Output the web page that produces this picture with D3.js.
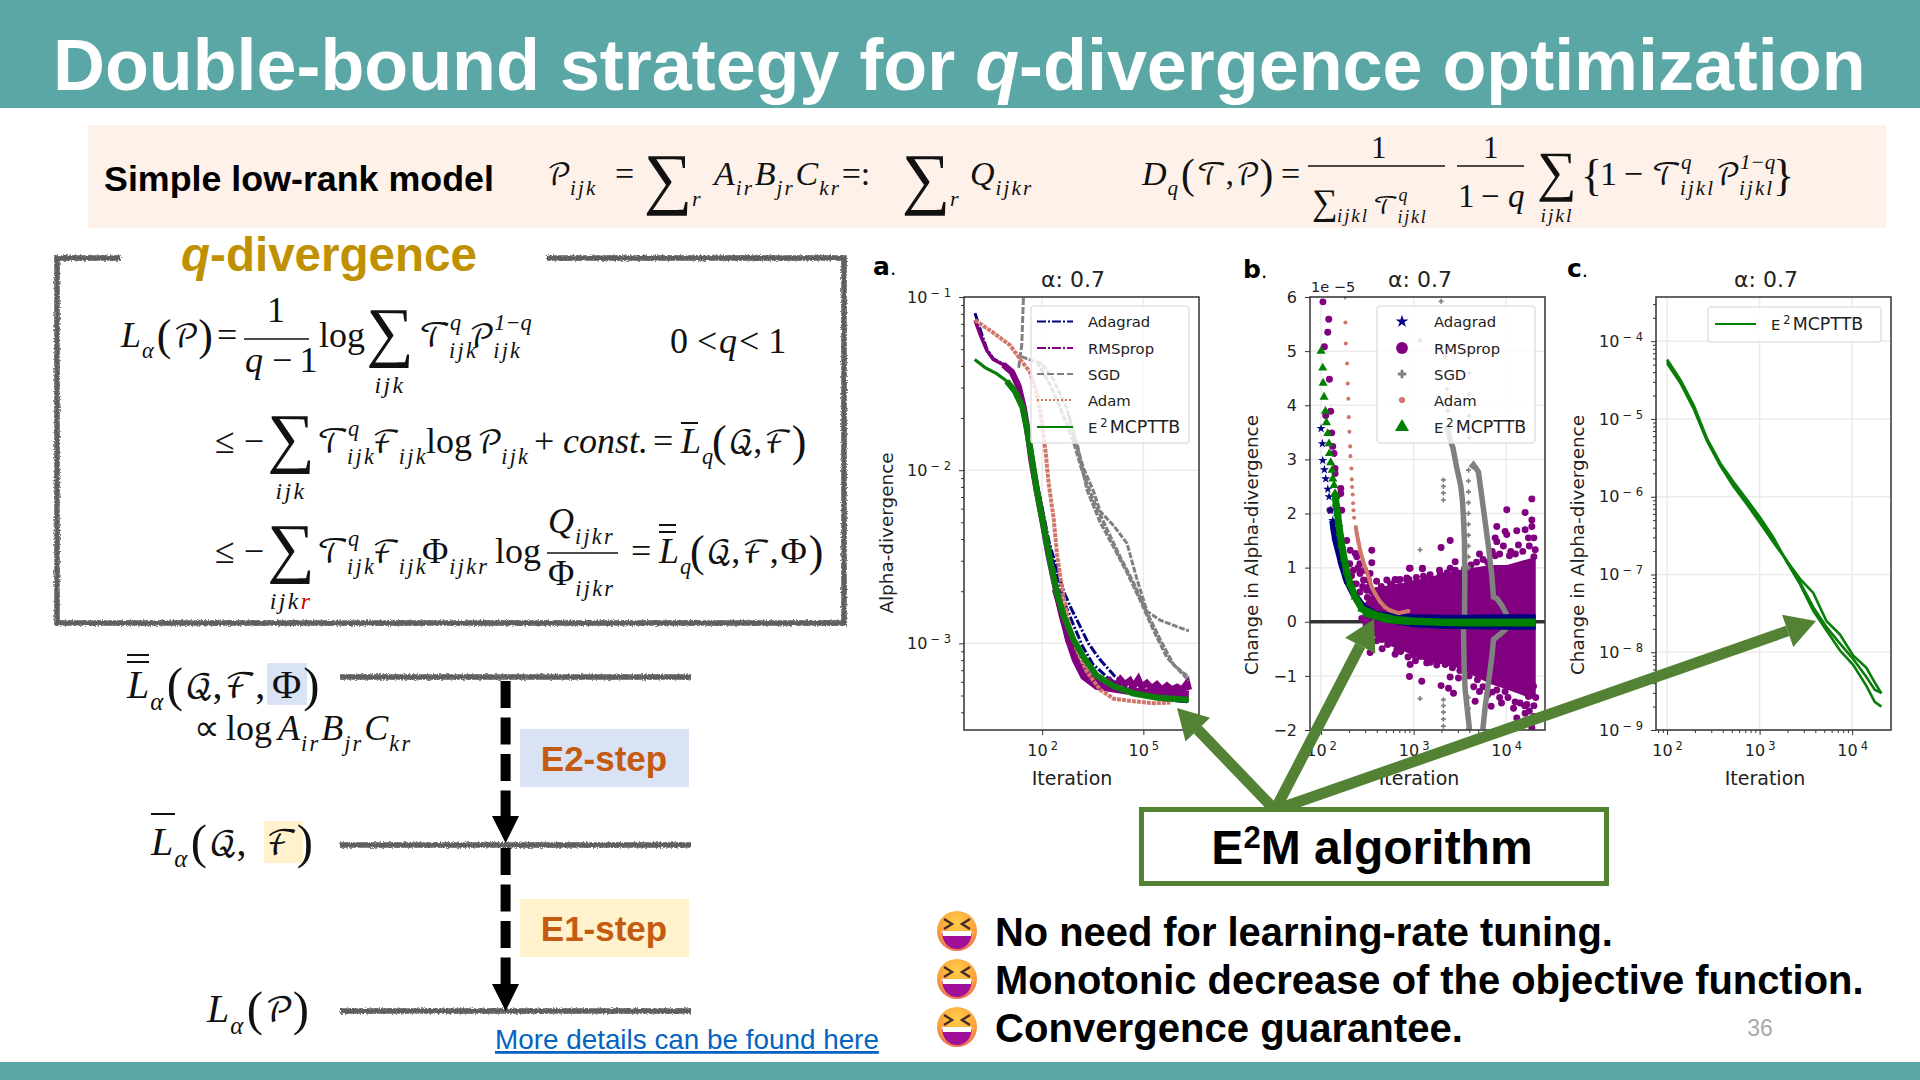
<!DOCTYPE html>
<html>
<head>
<meta charset="utf-8">
<title>Double-bound strategy</title>
<script src="https://cdn.jsdelivr.net/npm/d3@7/dist/d3.min.js"></script>
<style>
body { margin: 0; background: #fff; }
svg { display: block; }
.tick text, .plotText { font-family: "DejaVu Sans", sans-serif; fill: #222; }
.sans { font-family: "Liberation Sans", Arial, sans-serif; }
</style>
</head>
<body>
<svg id="slide" width="1920" height="1080"></svg>
<script>
// ---- panel a: alpha-divergence per iteration, x kept as log10(iteration)
var aE2mExp = [0, .31, .65, .95, 1.2, 1.42, 1.55, 1.69, 1.84, 2.04, 2.24, 2.44, 2.63, 2.93, 3.23, 3.62, 4.12, 4.71, 5.41, 6.35];
var aE2mVal = [.0436, .0391, .0361, .0327, .0284, .023, .0173, .0118, .0077, .00479, .00298, .00195, .00146, .00105, .00083, .00065, .000566, .000514, .000486, .000472];

var aRmsExp = [.01, .16, .36, .55, .85, 1.1, 1.3, 1.45, 1.59, 1.69, 1.84, 2.02, 2.19, 2.39, 2.58, 2.78, 3.03, 3.43, 3.7, 3.85, 4, 4.15, 4.32, 4.45, 4.6, 4.7, 4.85, 4.95, 5.1, 5.25, 5.4, 5.55, 5.7, 5.85, 6, 6.15, 6.3, 6.35];
var aRmsVal = [.0735, .0608, .0491, .0436, .0406, .0369, .0305, .023, .0157, .0113, .0077, .00502, .00327, .00214, .00146, .00105, .00079, .000637, .00059, .00058, .00061, .00056, .00062, .00058, .00061, .00056, .00062, .00056, .00059, .00055, .00058, .00054, .00057, .00054, .00056, .00054, .00059, .00054];
var aRms2Exp = [2.39, 2.63, 2.78, 2.98, 3.23, 3.62, 4.5, 5.4, 6.35];
var aRms2Val = [.00205, .00143, .00105, .000804, .000644, .000564, .00053, .00052, .00051];

var aAdagradExp = [.01, .16, .36, .55, .85, 1.1, 1.3, 1.45, 1.59, 1.69, 1.84, 2.02, 2.2, 2.45, 2.66, 2.88, 3.13, 3.37, 3.72, 4.16, 4.71, 5.2, 5.7, 6.3];
var aAdagradVal = [.0807, .0652, .05, .044, .041, .037, .0308, .0235, .016, .0118, .0085, .0058, .0039, .00262, .00195, .00156, .00125, .001, .000804, .000644, .00054, .00049, .00047, .00046];
var aAdagrad2Exp = [2.2, 2.45, 2.7, 2.95, 3.2, 3.5, 4, 4.7, 6.3];
var aAdagrad2Val = [.0037, .0024, .00165, .00125, .00096, .00076, .00062, .00052, .00046];

var aSgd1Exp = [1.445, 1.395, 1.296];
var aSgd1Val = [.0986, .0528, .038];
var aSgd2Exp = [1.395, 1.64, 1.99, 2.34, 2.73, 2.98, 3.23, 3.53, 3.72, 4.12, 4.515, 4.81, 5.11, 5.5, 5.9, 6.35];
var aSgd2Val = [.0452, .0433, .0414, .0332, .0228, .0146, .01026, .0075, .00579, .00478, .00378, .00235, .00153, .00136, .00127, .00118];
var aSgd3Exp = [1.84, 2.24, 2.58, 2.93, 3.18, 3.52, 3.92, 4.32, 4.71, 5.11, 5.5, 5.9, 6.35];
var aSgd3Val = [.0424, .031, .0218, .0146, .01, .00668, .00457, .00313, .00224, .0015, .00105, .00075, .000637];
var aSgd4Exp = [2.8, 3.05, 3.33, 3.72, 4.12, 4.51, 4.91, 5.31, 5.7, 6.35];
var aSgd4Val = [.0205, .0138, .0077, .00501, .0036, .00258, .00177, .00118, .00083, .00061];

var aAdamExp = [.01, .55, 1.05, 1.35, 1.64, 1.84, 1.99, 2.11, 2.19, 2.34, 2.44, 2.58, 2.78, 3.03, 3.33, 3.72, 4.12, 4.71, 5.31, 5.8];
var aAdamVal = [.0735, .0622, .0527, .0436, .0369, .0277, .019, .0124, .00847, .00527, .00327, .00214, .00133, .00091, .000684, .00054, .000479, .000463, .000451, .000455];

// ---- panel b: change in alpha-divergence (units of 1e-5)
var rmsExp = [2.02, 2.083, 2.072, 2.036, 2.09, 2.104, 2.05, 2.115, 2.126, 2.14, 2.151, 2.151, 2.213, 2.213, 2.169, 2.223, 2.097, 2.277, 2.314, 2.548, 2.386, 2.548, 2.955, 3.095, 2.35, 2.42, 2.31, 2.37, 2.71, 2.818, 2.926, 2.6, 2.51, 2.386, 2.44, 2.42, 2.458, 2.494, 2.53, 2.35, 2.53, 2.656,
  4.278, 4.007, 4.205, 3.899, 3.989, 4.007, 4.115, 4.205, 4.278, 4.278, 3.395, 3.297, 3.881, 3.899, 4.241, 4.133, 4.314, 3.712, 3.881, 4.036, 3.449, 3.395, 3.323, 2.962, 3.096, 3.106, 3.178, 3.232, 2.926, 2.8, 2.854, 2.764, 3.016, 3.07, 3.287, 3.413,
  2.818, 2.89, 2.998, 3.106, 3.07, 3.142, 2.962, 2.955, 3.088, 3.297, 3.395, 3.485, 3.341, 3.377, 3.431, 3.701, 3.69, 3.712, 3.665, 3.838, 3.899, 3.989, 4.097, 4.115, 4.224, 4.205, 4.278, 4.296, 4.241, 3.899, 4.007, 3.214, 3.377,
  2.33, 2.38, 2.42, 2.45, 2.5, 2.55, 2.47, 2.4, 2.52, 2.6, 2.65, 2.7, 2.75, 2.78, 2.85, 2.9, 2.95, 3.03, 3.12, 3.2, 3.28, 3.36, 3.45, 3.55, 3.62, 3.68, 3.75, 3.8, 3.85, 3.93, 3.97, 4.05, 4.1, 4.18, 4.25, 4.3, 4.3,
  2.5, 2.6, 2.66, 2.72, 2.8, 2.86, 2.94, 3.02, 3.1, 3.18, 3.25, 3.32, 3.42, 3.5, 3.6, 3.65, 3.75, 3.8, 3.85, 3.93, 3.95, 4.02, 4.08, 4.15, 4.2, 4.3, 4.3, 4.25, 4.32];
var rmsVal = [5.91, 5.59, 5.35, 5.08, 4.48, 3.89, 3.81, 3.49, 3.24, 3.11, 2.83, 2.74, 2.46, 2.37, 2.31, 2.06, 2.06, 1.5, 1.32, 1.32, 1.2, 1.09, .99, .98, .95, .89, 1.07, 1.26, .77, .77, .77, .58, .77, .4, .06, 1.07, .77, .58, .89, .7, -.57, -.33,
  2.27, 2.07, 2.02, 1.76, 1.67, 1.61, 1.68, 1.7, 1.88, 1.76, 1.5, 1.37, 1.55, 1.48, 1.55, 1.42, 1.33, 1.25, 1.22, 1.22, 1.11, .99, .84, .99, .99, .84, .87, .68, .81, .78, .78, .68, .71, .71, .87, .65,
  -.52, -.46, -.61, -.42, -.64, -.76, -.79, -1.01, -1.1, -1.18, -1.02, -1.04, -.79, -1.23, -1.32, -.89, -1.07, -1.29, -1.47, -1.56, -1.26, -1.29, -1.48, -1.78, -1.53, -1.69, -1.96, -1.19, -1.38, -1.07, -.92, -.52, -.76,
  .85, .7, .55, .65, .45, .55, .95, 1, .65, .75, .65, .6, .7, .6, .65, .62, .78, .82, .78, .75, .95, .9, .95, .98, 1.05, 1.1, 1.15, 1.1, 1.3, 1.25, 1.4, 1.3, 1.25, 1.3, 1.4, 1.55, 1.2,
  -.25, -.35, -.5, -.42, -.6, -.55, -.65, -.72, -.6, -.75, -.8, -.7, -.85, -.9, -1, -1.2, -1.2, -1.35, -1.3, -1.4, -1.5, -1.4, -1.6, -1.5, -1.55, -1.55, -1.75, -1.65, -1.4];
var rmsBandExp = [2.45, 2.6, 2.75, 2.9, 3.1, 3.47, 3.83, 4.01, 4.32];
var rmsBandHi = [.3, .6, .68, .72, .8, .95, 1.05, 1.05, 1.2];
var rmsBandLo = [-.1, -.3, -.45, -.55, -.7, -.85, -1.15, -1.25, -1.45];

var adagradExp = [2, 2.014, 2.018, 2.036, 2.05, 2.072, 2.086, 2.104, 2.126, 2.14, 2.159, 2.187, 2.223, 2.277, 2.35, 2.458, 2.6, 2.818];
var adagradVal = [3.57, 3.29, 2.98, 2.81, 2.64, 2.45, 2.31, 2.06, 1.87, 1.69, 1.5, 1.32, 1.07, .77, .52, .27, .12, .03];
var adagradBandExp = [2.6, 2.8, 3, 3.3, 3.6, 4, 4.32];
var adagradBandHi = [.2, .16, .14, .13, .13, .14, .14];
var adagradBandLo = [.02, -.04, -.1, -.13, -.14, -.15, -.15];

var sgdNeg1Exp = [3.539, 3.546, 3.557, 3.582, 3.604];
var sgdNeg1Val = [-.13, -.86, -1.25, -1.65, -1.99];
var sgdPos1Exp = [3.359, 3.377, 3.395, 3.423, 3.467, 3.51, 3.528, 3.539, 3.55, 3.553, 3.55];
var sgdPos1Val = [3.63, 3.5, 3.36, 3.23, 2.84, 2.51, 2.24, 1.91, 1.45, .79, .07];
var sgdPos2Exp = [3.618, 3.647, 3.7, 3.737, 3.773, 3.809, 3.845, 3.863, 3.899, 3.953, 4.007];
var sgdPos2Val = [2.84, 2.9, 2.77, 2.31, 1.85, 1.39, .86, .46, .43, .3, .13];
var sgdNeg2Exp = [4.007, 3.935, 3.863, 3.845, 3.809, 3.773, 3.748];
var sgdNeg2Val = [-.12, -.23, -.33, -.66, -1.12, -1.58, -1.99];
var sgdDotExp = [2.26, 3.07, 3.07, 3.07, 3.297, 3.34, 3.36, 3.37, 3.322, 3.322, 3.322, 3.322, 3.322, 3.322, 3.322, 3.322, 3.322, 3.6, 3.6, 3.6, 3.6, 3.593, 3.593, 3.593, 3.593, 3.593, 3.593, 3.593, 3.593, 3.593, 3.593, 3.593, 3.593, 3.593, 3.593];
var sgdDotVal = [6, 5.2, 1.33, -1.42, 5.92, 4.9, 4.3, 3.9, 2.62, 2.5, 2.38, 2.25, -1.44, -1.55, -1.67, -1.8, -1.93, 4.6, 4.2, 3.8, 3.4, 2.8, 2.6, 2.4, 2.2, 2, 1.8, 1.6, 1.4, 1.2, 1, -1.4, -1.6, -1.8, -1.98];

var adamExp = [2.263, 2.267, 2.281, 2.288, 2.295, 2.299, 2.306, 2.314, 2.317, 2.328, 2.332, 2.335, 2.342, 2.346, 2.35, 2.357, 2.375, 2.386, 2.404, 2.422, 2.45, 2.476, 2.512, 2.548, 2.584, 2.638, 2.692, 2.746, 2.836, 2.944];
var adamVal = [5.53, 5.14, 4.77, 4.4, 4.12, 3.78, 3.51, 3.24, 3.06, 2.83, 2.63, 2.49, 2.35, 2.19, 2.06, 1.92, 1.75, 1.63, 1.47, 1.32, 1.14, 1.01, .83, .64, .52, .37, .27, .21, .16, .2];

var e2mExp = [2, 2.018, 2.022, 2.032, 2.047, 2.058, 2.072, 2.086, 2.09, 2.104, 2.119, 2.126, 2.14, 2.151, 2.162, 2.177, 2.191, 2.205, 2.223, 2.249, 2.277, 2.314, 2.368, 2.44, 2.548, 2.71, 2.96];
var e2mVal = [5, 4.69, 4.41, 4.15, 3.89, 3.68, 3.48, 3.29, 3.11, 2.94, 2.8, 2.64, 2.52, 2.37, 2.18, 2, 1.81, 1.63, 1.41, 1.17, .92, .7, .46, .24, .12, .04, 0];
var e2mBandExp = [2.45, 2.6, 2.8, 3, 3.3, 3.6, 4, 4.32];
var e2mBandHi = [.3, .19, .11, .08, .06, .06, .06, .06];
var e2mBandLo = [.1, .04, -.03, -.06, -.08, -.09, -.09, -.09];

// ---- panel c: E2MCPTTB change per iteration, three runs
var cIter = [100, 139, 194, 270, 376, 523, 728, 1012, 1409, 1963, 2731, 3802, 5290, 7362, 10250, 14260, 17540, 20700];
var cRun1 = [5.5e-5, 3.1e-5, 1.4e-5, 5.4e-6, 2.6e-6, 1.45e-6, 8.5e-7, 5e-7, 2.8e-7, 1.5e-7, 7.9e-8, 3.8e-8, 2.1e-8, 1.3e-8, 8.2e-9, 4.8e-9, 3.3e-9, 3e-9];
var cRun2 = [5.2e-5, 2.9e-5, 1.35e-5, 5.2e-6, 2.5e-6, 1.35e-6, 8e-7, 4.6e-7, 2.6e-7, 1.5e-7, 8.8e-8, 5.8e-8, 2.5e-8, 1.7e-8, 9.1e-9, 6.3e-9, 4.1e-9, 2.95e-9];
var cRun3 = [5.8e-5, 3.2e-5, 1.5e-5, 5.6e-6, 2.7e-6, 1.55e-6, 9.2e-7, 5.4e-7, 3e-7, 1.45e-7, 7.5e-8, 3.4e-8, 1.9e-8, 1.06e-8, 6.9e-9, 3.7e-9, 2.3e-9, 2e-9];

var legendNames = ["Adagrad", "RMSprop", "SGD", "Adam"];
var legendColors = ["#000080", "#800080", "#808080", "#d0776b"];
var aXTicks = [100, 100000];
var aYTicks = [.1, .01, .001];
var bcXTicks = [100, 1000, 10000];
var bYTicks = [6, 5, 4, 3, 2, 1, 0, -1, -2];
var cYTicks = [1e-4, 1e-5, 1e-6, 1e-7, 1e-8, 1e-9];
var bullets = ["No need for learning-rate tuning.", "Monotonic decrease of the objective function.", "Convergence guarantee."];

var TEAL = "#5aa7a6", ARROW = "#548235";
var P = "\uD835\uDCAB", T = "\uD835\uDCAF", F = "\u2131", Q = "\uD835\uDCAC";

var svg = d3.select("#slide");
var defs = svg.append("defs");

var fuzz = defs.append("filter").attr("id", "fuzz")
    .attr("filterUnits", "userSpaceOnUse").attr("x", 0).attr("y", 0).attr("width", 1920).attr("height", 1080);
fuzz.append("feTurbulence").attr("type", "fractalNoise").attr("baseFrequency", .6).attr("numOctaves", 2).attr("seed", 4).attr("result", "n");
fuzz.append("feDisplacementMap").attr("in", "SourceGraphic").attr("in2", "n").attr("scale", 4).attr("result", "d");
fuzz.append("feGaussianBlur").attr("in", "d").attr("stdDeviation", .7);

var face = defs.append("radialGradient").attr("id", "faceFill").attr("cx", .5).attr("cy", .3).attr("r", .8);
face.append("stop").attr("offset", "0%").attr("stop-color", "#ffd04a");
face.append("stop").attr("offset", "60%").attr("stop-color", "#f9a13a");
face.append("stop").attr("offset", "100%").attr("stop-color", "#e8585e");

// -------- slide furniture
svg.append("rect").attr("width", 1920).attr("height", 1080).attr("fill", "#fff");
svg.append("rect").attr("width", 1920).attr("height", 108).attr("fill", TEAL);
svg.append("rect").attr("y", 1062).attr("width", 1920).attr("height", 18).attr("fill", TEAL);
svg.append("rect").attr("x", 88).attr("y", 125).attr("width", 1798).attr("height", 103).attr("fill", "#fdf1ea");
svg.append("rect").attr("x", 267).attr("y", 663).attr("width", 40).attr("height", 42).attr("fill", "#dae3f3");
svg.append("rect").attr("x", 264).attr("y", 821).attr("width", 39).attr("height", 42).attr("fill", "#fff2cc");

function fitText(sel, width) {
    var size = parseFloat(sel.attr("font-size"));
    var len = sel.node().getComputedTextLength();
    sel.attr("font-size", size * width / len);
}

var title = svg.append("text").attr("class", "sans").attr("x", 53).attr("y", 90)
    .attr("font-size", 70).attr("font-weight", "bold").attr("fill", "#fff");
title.append("tspan").text("Double-bound strategy for ");
title.append("tspan").attr("font-style", "italic").text("q");
title.append("tspan").text("-divergence optimization");
fitText(title, 1813);

var lowRank = svg.append("text").attr("class", "sans").attr("x", 104).attr("y", 191)
    .attr("font-size", 36).attr("font-weight", "bold").attr("fill", "#000").text("Simple low-rank model");
fitText(lowRank, 390);

// -------- small math layout helpers
var mathG = svg.append("g").attr("fill", "#111");

function mathText(x, y, size, txt, style, fill) {
    var t = mathG.append("text").attr("x", x).attr("y", y).attr("font-size", size).text(txt);
    if (style == "s") {
        t.attr("font-family", "'DejaVu Math TeX Gyre','Liberation Serif',serif").attr("font-size", size * .86);
    } else {
        t.attr("font-family", "'Liberation Serif',serif");
        if (style != "r" && style != "R") t.attr("font-style", "italic");
        if (style == "I") t.attr("letter-spacing", ".1em");
        if (style == "R") t.attr("font-size", size * 1.22).attr("y", y + size * .08);
    }
    if (fill) t.attr("fill", fill);
    return t.node().getComputedTextLength();
}

// token: [text, style, sub, sup]
function row(x, y, size, tokens) {
    tokens.forEach(function(tok) {
        var style = tok[1] || "i";
        var w = mathText(x, y, size, tok[0], style);
        var subW = 0, supW = 0;
        var back = style == "s" ? size * .08 : 0;
        if (tok[2]) subW = mathText(x + w - back + 1, y + size * .3, size * .62, tok[2], "I");
        if (tok[3]) supW = mathText(x + w - back + 2, y - size * .46, size * .62, tok[3], "i");
        x += w - back + Math.max(subW, supW) + size * .05;
    });
    return x;
}

function sumSign(cx, y, size, limit, limitRed) {
    mathG.append("text").attr("x", cx).attr("y", y + size * .2).attr("font-size", size * 1.85)
        .attr("text-anchor", "middle").attr("font-family", "'Liberation Serif',serif").text("\u2211");
    var lim = mathG.append("text").attr("x", cx).attr("y", y + size * 1.28).attr("font-size", size * .66)
        .attr("text-anchor", "middle").attr("font-style", "italic").attr("letter-spacing", ".1em")
        .attr("font-family", "'Liberation Serif',serif").text(limit);
    if (limitRed) lim.append("tspan").attr("fill", "#d00000").text(limitRed);
}

function rule(x1, x2, y, w) {
    mathG.append("line").attr("x1", x1).attr("x2", x2).attr("y1", y).attr("y2", y)
        .attr("stroke", "#111").attr("stroke-width", w || 1.6);
}

function bigSum(x, y) {
    mathG.append("text").attr("x", x).attr("y", y).attr("font-size", 68).attr("text-anchor", "middle")
        .attr("font-family", "'Liberation Serif',serif").text("\u2211");
}

// -------- header equations
row(547, 185, 34, [[P, "s", "ijk"]]);
mathText(615, 185, 34, "=", "r");
bigSum(668, 201);
mathText(692, 206, 22, "r", "i");
row(714, 185, 34, [["A", "i", "ir"], ["B", "i", "jr"], ["C", "i", "kr"], ["=:", "r"]]);
bigSum(926, 201);
mathText(950, 206, 22, "r", "i");
row(970, 185, 34, [["Q", "i", "ijkr"]]);

row(1142, 185, 34, [["D", "i", "q"], ["(", "R"], [T, "s"], [",", "r"], [P, "s"], [")", "R"]]);
mathText(1281, 185, 34, "=", "r");
rule(1308, 1445, 166);
mathText(1371, 158, 31, "1", "r");
mathG.append("text").attr("x", 1312).attr("y", 214).attr("font-size", 36).attr("font-family", "'Liberation Serif',serif").text("\u2211");
mathText(1337, 222, 19, "ijkl", "I");
row(1373, 214, 29, [[T, "s", "ijkl", "q"]]);
rule(1457, 1524, 166);
mathText(1483, 158, 31, "1", "r");
row(1458, 207, 33, [["1\u2009\u2212\u2009", "r"], ["q"]]);
sumSign(1557, 184, 30, "ijkl");
mathText(1581, 190, 44, "{", "r");
row(1600, 185, 34, [["1\u2009\u2212\u2009", "r"], [T, "s", "ijkl", "q"], [P, "s", "ijkl", "1\u2212q"]]);
mathText(1773, 190, 44, "}", "r");

// -------- q-divergence frame
svg.append("path").attr("d", "M121,258H57V623H844V258H547")
    .attr("fill", "none").attr("stroke", "#5e5e5e").attr("stroke-width", 5.5).attr("filter", "url(#fuzz)");
var qd = svg.append("text").attr("class", "sans").attr("x", 181).attr("y", 271)
    .attr("font-size", 46).attr("font-weight", "bold").attr("fill", "#bf9000");
qd.append("tspan").attr("font-style", "italic").text("q");
qd.append("tspan").text("-divergence");
fitText(qd, 296);

var M = 36;
row(121, 347, M, [["L", "i", "\u03B1"], ["(", "R"], [P, "s"], [")", "R"]]);
mathText(217, 347, M, "=", "r");
rule(244, 309, 339);
mathText(267, 322, M, "1", "r");
row(245, 372, M, [["q"], ["\u2009\u2212\u20091", "r"]]);
mathText(319, 347, M, "log", "r");
sumSign(390, 347, M, "ijk");
row(419, 347, M, [[T, "s", "ijk", "q"]]);
row(469, 347, M, [[P, "s", "ijk", "1\u2212q"]]);
row(670, 353, M, [["0 < ", "r"], ["q"], [" < 1", "r"]]);

mathText(215, 453, M, "\u2264 \u2212", "r");
sumSign(291, 453, M, "ijk");
row(317, 453, M, [[T, "s", "ijk", "q"]]);
row(372, 453, M, [[F, "s", "ijk"]]);
mathText(426, 453, M, "log", "r");
row(477, 453, M, [[P, "s", "ijk"]]);
mathText(534, 453, M, "+", "r");
mathText(563, 453, M, "const.", "i");
mathText(653, 453, M, "=", "r");
row(681, 453, M, [["L", "i", "q"]]);
rule(681, 698, 423, 2);
row(712, 453, M, [["(", "R"], [Q, "s"], [",", "r"], [F, "s"], [")", "R"]]);

mathText(215, 563, M, "\u2264 \u2212", "r");
sumSign(291, 563, M, "ijk", "r");
row(317, 563, M, [[T, "s", "ijk", "q"]]);
row(372, 563, M, [[F, "s", "ijk"]]);
row(422, 563, M, [["\u03A6", "r", "ijkr"]]);
mathText(495, 563, M, "log", "r");
rule(547, 618, 553);
row(548, 533, M, [["Q", "i", "ijkr"]]);
row(548, 585, M, [["\u03A6", "r", "ijkr"]]);
mathText(631, 563, M, "=", "r");
row(659, 563, M, [["L", "i", "q"]]);
rule(659, 676, 525, 2);
rule(659, 676, 532, 2);
row(690, 563, M, [["(", "R"], [Q, "s"], [",", "r"], [F, "s"], [",", "r"], ["\u03A6", "r"], [")", "R"]]);

// -------- bound ladder
row(127, 698, 40, [["L", "i", "\u03B1"], ["(", "R"], [Q, "s"], [",", "r"], [F, "s"], [",", "r"]]);
row(272, 698, 40, [["\u03A6", "r"], [")", "R"]]);
rule(127, 149, 655, 2);
rule(127, 149, 662, 2);
mathText(194, 740, 36, "\u221D", "r");
mathText(226, 740, 36, "log", "r");
row(278, 740, 36, [["A", "i", "ir"], ["B", "i", "jr"], ["C", "i", "kr"]]);
row(151, 855, 40, [["L", "i", "\u03B1"], ["(", "R"], [Q, "s"], [",", "r"]]);
row(266, 855, 40, [[F, "s"], [")", "R"]]);
rule(151, 175, 814, 2);
row(207, 1022, 40, [["L", "i", "\u03B1"], ["(", "R"], [P, "s"], [")", "R"]]);

svg.selectAll(".level").data([677, 845, 1011]).enter().append("line")
    .attr("x1", 340).attr("x2", 691)
    .attr("y1", function(d) { return d; }).attr("y2", function(d) { return d; })
    .attr("stroke", "#5e5e5e").attr("stroke-width", 5.5).attr("filter", "url(#fuzz)");

[[681, 816], [848, 984]].forEach(function(seg) {
    svg.append("line").attr("x1", 505.6).attr("x2", 505.6).attr("y1", seg[0]).attr("y2", seg[1])
        .attr("stroke", "#000").attr("stroke-width", 10).attr("stroke-dasharray", "27,9.5");
    svg.append("path").attr("d", "M492," + seg[1] + "H519L505.6," + (seg[1] + 27) + "Z").attr("fill", "#000");
});

[["E2-step", 729, "#dae3f3", 771], ["E1-step", 899, "#fff2cc", 941]].forEach(function(s) {
    svg.append("rect").attr("x", 520).attr("y", s[1]).attr("width", 169).attr("height", 58).attr("fill", s[2]);
    svg.append("text").attr("class", "sans").attr("x", 604).attr("y", s[3]).attr("text-anchor", "middle")
        .attr("font-size", 35).attr("font-weight", "bold").attr("fill", "#c55a11").text(s[0]);
});

var link = svg.append("text").attr("class", "sans").attr("x", 495).attr("y", 1049)
    .attr("font-size", 28).attr("fill", "#0563c1").attr("text-decoration", "underline").text("More details can be found here");
fitText(link, 384);

// -------- chart helpers
function points(xs, ys) {
    return xs.map(function(e, i) { return {x: Math.pow(10, e), y: ys[i]}; });
}

function superLabels(sel) {
    sel.each(function(d) {
        var t = d3.select(this);
        var e = Math.round(Math.log10(d));
        t.text("10");
        t.append("tspan").attr("font-size", 11.5).attr("dy", -6).attr("dx", 3).text(String(e).replace("-", "\u2212 "));
    });
}

function minorTicks(lo, hi) {
    var out = [];
    for (var e = lo; e < hi; e++) {
        for (var m = 2; m < 10; m++) out.push(m * Math.pow(10, e));
    }
    return out;
}

function makePanel(cfg) {
    var g = svg.append("g");
    var x = d3.scaleLog().domain(cfg.xDomain).range([cfg.left, cfg.right]);
    var y = cfg.yScale.domain(cfg.yDomain).range([730, 297]);

    g.append("g").selectAll("line").data(cfg.xTicks).enter().append("line")
        .attr("x1", x).attr("x2", x).attr("y1", 297).attr("y2", 730)
        .attr("stroke", "#ebebeb").attr("stroke-width", 1.5);
    g.append("g").selectAll("line").data(cfg.yTicks).enter().append("line")
        .attr("y1", y).attr("y2", y).attr("x1", cfg.left).attr("x2", cfg.right)
        .attr("stroke", "#ebebeb").attr("stroke-width", 1.5);

    var clipId = "clip" + cfg.name;
    defs.append("clipPath").attr("id", clipId).append("rect")
        .attr("x", cfg.left).attr("y", 297).attr("width", cfg.right - cfg.left).attr("height", 433);
    var plot = g.append("g").attr("clip-path", "url(#" + clipId + ")");

    var xAxis = d3.axisBottom(x).tickValues(cfg.xTicks).tickSize(5).tickPadding(10);
    var gx = g.append("g").attr("transform", "translate(0,730)").call(xAxis);
    gx.selectAll("text").attr("font-size", 16).call(superLabels);

    var yAxis = d3.axisLeft(y).tickValues(cfg.yTicks).tickSize(5).tickPadding(8);
    var gy = g.append("g").attr("transform", "translate(" + cfg.left + ",0)").call(yAxis);
    gy.selectAll("text").attr("font-size", 16);
    if (cfg.logY) gy.selectAll("text").call(superLabels);
    else gy.selectAll("text").text(function(d) { return String(d).replace("-", "\u2212"); });

    if (cfg.xMinor) {
        g.append("g").attr("transform", "translate(0,730)")
            .call(d3.axisBottom(x).tickValues(cfg.xMinor).tickSize(3).tickFormat(""));
    }
    if (cfg.yMinor) {
        g.append("g").attr("transform", "translate(" + cfg.left + ",0)")
            .call(d3.axisLeft(y).tickValues(cfg.yMinor).tickSize(3).tickFormat(""));
    }
    g.selectAll(".domain").attr("stroke", "none");
    g.selectAll(".tick line").attr("stroke", "#333");

    g.append("text").attr("class", "plotText").attr("x", cfg.midX).attr("y", 287).attr("text-anchor", "middle")
        .attr("font-size", 22).text("\u03B1: 0.7");
    g.append("text").attr("class", "plotText").attr("x", cfg.midX - 1).attr("y", 785).attr("text-anchor", "middle")
        .attr("font-size", 19).text("Iteration");
    g.append("text").attr("class", "plotText").attr("text-anchor", "middle").attr("font-size", 18.4)
        .attr("transform", "translate(" + cfg.labelX + "," + cfg.labelY + ") rotate(-90)").text(cfg.yLabel);

    var letter = g.append("text").attr("class", "plotText").attr("x", cfg.letterX).attr("y", cfg.letterY)
        .attr("font-size", 25).attr("font-weight", "bold").style("fill", "#000").text(cfg.name);
    letter.append("tspan").attr("font-weight", "normal").attr("font-size", 20).text(".");

    return {g: g, plot: plot, x: x, y: y, cfg: cfg};
}

function finishPanel(p) {
    p.g.append("rect").attr("x", p.cfg.left).attr("y", 297)
        .attr("width", p.cfg.right - p.cfg.left).attr("height", 433)
        .attr("fill", "none").attr("stroke", "#333").attr("stroke-width", 1.5);
}

function drawRun(p, xs, ys, color, width, dash) {
    var line = d3.line().x(function(d) { return p.x(d.x); }).y(function(d) { return p.y(d.y); });
    p.plot.append("path").datum(points(xs, ys)).attr("d", line)
        .attr("fill", "none").attr("stroke", color).attr("stroke-width", width)
        .attr("stroke-dasharray", dash || null);
}

function drawBand(p, xs, hi, lo, color) {
    var area = d3.area().x(function(d) { return p.x(d.x); })
        .y0(function(d) { return p.y(d.lo); }).y1(function(d) { return p.y(d.hi); });
    var rows = xs.map(function(e, i) { return {x: Math.pow(10, e), hi: hi[i], lo: lo[i]}; });
    p.plot.append("path").datum(rows).attr("d", area).attr("fill", color);
}

function drawMarks(p, xs, ys, type, size, color) {
    p.plot.append("g").selectAll("path").data(points(xs, ys)).enter().append("path")
        .attr("transform", function(d) { return "translate(" + p.x(d.x) + "," + p.y(d.y) + ")"; })
        .attr("d", d3.symbol().type(type).size(size)).attr("fill", color);
}

function legendBox(p, left, right, bottom) {
    var lg = p.g.append("g");
    lg.append("rect").attr("x", left).attr("y", 306).attr("width", right - left).attr("height", bottom - 306).attr("rx", 3)
        .attr("fill", "rgba(255,255,255,.8)").attr("stroke", "#e2e2e2").attr("stroke-width", 1.5);
    return lg;
}

function legendLabel(lg, x, y, name) {
    var t = lg.append("text").attr("class", "plotText").attr("x", x).attr("y", y + 5.5).attr("font-size", 14.8);
    if (name.indexOf("E2") == 0) {
        t.text("E");
        t.append("tspan").attr("font-size", 11.5).attr("dy", -6).attr("dx", 3).text("2");
        t.append("tspan").attr("dy", 6).attr("dx", 2).attr("font-size", 17.4).text("MCPTTB");
    } else {
        t.text(name);
    }
}

// -------- panel a
var pa = makePanel({name: "a", left: 964, right: 1199, xDomain: [.482, 4467000], yScale: d3.scaleLog(), logY: true,
    yDomain: [.000316, .1], xTicks: aXTicks, yTicks: aYTicks, yMinor: minorTicks(-4, -1).filter(function(d) { return d > .000316 && d < .1; }),
    midX: 1073, labelX: 893, labelY: 533, yLabel: "Alpha-divergence", letterX: 873, letterY: 275});
drawRun(pa, aAdagradExp, aAdagradVal, "#000080", 3, "9,2,2,2");
drawRun(pa, aAdagrad2Exp, aAdagrad2Val, "#000080", 3, "9,2,2,2");
drawRun(pa, aRmsExp, aRmsVal, "#800080", 3.5);
drawRun(pa, aRmsExp.slice(4), aRmsVal.slice(4), "#800080", 6.5);
drawRun(pa, aRms2Exp, aRms2Val, "#800080", 7);
drawRun(pa, aSgd1Exp, aSgd1Val, "#808080", 3, "7,2");
drawRun(pa, aSgd2Exp, aSgd2Val, "#808080", 3, "6,1.5");
drawRun(pa, aSgd3Exp, aSgd3Val, "#808080", 3.2, "6,1.5");
drawRun(pa, aSgd4Exp, aSgd4Val, "#808080", 3.2, "6,1.5");
drawRun(pa, aAdamExp, aAdamVal, "#d0776b", 4, "4,1");
drawRun(pa, aE2mExp, aE2mVal, "#0a7d0a", 3.2);
drawRun(pa, aE2mExp.slice(3), aE2mVal.slice(3), "#0a7d0a", 6.2);
finishPanel(pa);
var legA = legendBox(pa, 1031, 1189, 443);
var legRows = [321.5, 348, 374, 400, 427];
var legDash = ["9,2,2,2", "9,2,2,2", "7,3", "2,2", null];
legendNames.concat(["E2MCPTTB"]).forEach(function(name, i) {
    var color = i < 4 ? legendColors[i] : "#008000";
    legA.append("line").attr("x1", 1037).attr("x2", 1073).attr("y1", legRows[i]).attr("y2", legRows[i])
        .attr("stroke", color).attr("stroke-width", 2).attr("stroke-dasharray", legDash[i]);
    legendLabel(legA, 1088, legRows[i], name);
});

// -------- panel b
var pb = makePanel({name: "b", left: 1310, right: 1545, xDomain: [75.9, 26300], yScale: d3.scaleLinear(), logY: false,
    yDomain: [-2, 6], xTicks: bcXTicks, yTicks: bYTicks, xMinor: minorTicks(1, 4).filter(function(d) { return d > 76 && d < 26300; }),
    midX: 1420, labelX: 1258, labelY: 545, yLabel: "Change in Alpha-divergence", letterX: 1243, letterY: 278});
pb.plot.append("line").attr("x1", 1310).attr("x2", 1545).attr("y1", pb.y(0)).attr("y2", pb.y(0))
    .attr("stroke", "#333").attr("stroke-width", 3.5);
drawBand(pb, rmsBandExp, rmsBandHi, rmsBandLo, "#800080");
drawMarks(pb, rmsExp, rmsVal, d3.symbolCircle, 38, "#800080");
drawRun(pb, sgdPos1Exp, sgdPos1Val, "#808080", 5.5);
drawRun(pb, sgdNeg1Exp, sgdNeg1Val, "#808080", 5.5);
drawRun(pb, sgdPos2Exp, sgdPos2Val, "#808080", 5.5);
drawRun(pb, sgdNeg2Exp, sgdNeg2Val, "#808080", 5.5);
drawMarks(pb, sgdDotExp, sgdDotVal, d3.symbolCross, 14, "#808080");
drawBand(pb, adagradBandExp, adagradBandHi, adagradBandLo, "#000080");
drawMarks(pb, adagradExp, adagradVal, d3.symbolStar, 26, "#000080");
drawRun(pb, adagradExp.slice(8), adagradVal.slice(8), "#000080", 7);
drawMarks(pb, adamExp, adamVal, d3.symbolCircle, 13, "#d0776b");
drawRun(pb, adamExp.slice(16), adamVal.slice(16), "#d0776b", 4);
drawMarks(pb, e2mExp, e2mVal, d3.symbolTriangle, 36, "#008000");
drawRun(pb, e2mExp.slice(13), e2mVal.slice(13), "#008000", 7);
drawBand(pb, e2mBandExp, e2mBandHi, e2mBandLo, "#008000");
finishPanel(pb);
pb.g.append("text").attr("class", "plotText").attr("x", 1311).attr("y", 292).attr("font-size", 14.5).text("1e \u22125");
var legB = legendBox(pb, 1377, 1535, 443);
var legSymbols = [d3.symbolStar, d3.symbolCircle, d3.symbolCross, d3.symbolCircle, d3.symbolTriangle];
var legSizes = [50, 110, 40, 30, 85];
legendNames.concat(["E2MCPTTB"]).forEach(function(name, i) {
    var color = i < 4 ? legendColors[i] : "#008000";
    legB.append("path").attr("transform", "translate(1402," + legRows[i] + ")")
        .attr("d", d3.symbol().type(legSymbols[i]).size(legSizes[i])).attr("fill", color);
    legendLabel(legB, 1434, legRows[i], name);
});

// -------- panel c
var pc = makePanel({name: "c", left: 1656, right: 1891, xDomain: [75.9, 26300], yScale: d3.scaleLog(), logY: true,
    yDomain: [1e-9, 3.7e-4], xTicks: bcXTicks, yTicks: cYTicks, xMinor: minorTicks(1, 4).filter(function(d) { return d > 76 && d < 26300; }),
    yMinor: minorTicks(-9, -3).filter(function(d) { return d < 3.7e-4; }),
    midX: 1766, labelX: 1584, labelY: 545, yLabel: "Change in Alpha-divergence", letterX: 1567, letterY: 277});
var cExp = cIter.map(function(d) { return Math.log10(d); });
drawRun(pc, cExp, cRun1, "#0a7d0a", 2.6);
drawRun(pc, cExp, cRun2, "#0a7d0a", 2.6);
drawRun(pc, cExp, cRun3, "#0a7d0a", 2.6);
finishPanel(pc);
var legC = pc.g.append("g");
legC.append("rect").attr("x", 1708).attr("y", 307).attr("width", 173).attr("height", 35).attr("rx", 3)
    .attr("fill", "rgba(255,255,255,.8)").attr("stroke", "#e2e2e2").attr("stroke-width", 1.5);
legC.append("line").attr("x1", 1715).attr("x2", 1756).attr("y1", 324).attr("y2", 324).attr("stroke", "#008000").attr("stroke-width", 2);
legendLabel(legC, 1771, 324, "E2MCPTTB");

// -------- callout arrows and box
var arrowTips = [[1177, 708], [1374, 619], [1816, 621]];
arrowTips.forEach(function(tip) {
    var ox = 1275, oy = 810;
    var len = Math.hypot(tip[0] - ox, tip[1] - oy);
    var ux = (tip[0] - ox) / len, uy = (tip[1] - oy) / len;
    var bx = tip[0] - ux * 30, by = tip[1] - uy * 30;
    svg.append("line").attr("x1", ox).attr("y1", oy).attr("x2", bx).attr("y2", by)
        .attr("stroke", ARROW).attr("stroke-width", 11);
    svg.append("path").attr("fill", ARROW)
        .attr("d", "M" + tip[0] + "," + tip[1] + "L" + (bx - uy * 17) + "," + (by + ux * 17) + "L" + (bx + uy * 17) + "," + (by - ux * 17) + "Z");
});
svg.append("rect").attr("x", 1141.5).attr("y", 809.5).attr("width", 465).attr("height", 74)
    .attr("fill", "#fff").attr("stroke", ARROW).attr("stroke-width", 5);
var em = svg.append("text").attr("class", "sans").attr("x", 1372).attr("y", 864).attr("text-anchor", "middle")
    .attr("font-size", 48).attr("font-weight", "bold").attr("fill", "#000");
em.append("tspan").text("E");
em.append("tspan").attr("font-size", 31).attr("dy", -16).text("2");
em.append("tspan").attr("dy", 16).text("M algorithm");

// -------- bullets
var bulletRows = [946, 994, 1042];
var bulletFit = [618, 869, 468];
bullets.forEach(function(txt, i) {
    var t = svg.append("text").attr("class", "sans").attr("x", 995).attr("y", bulletRows[i])
        .attr("font-size", 38).attr("font-weight", "bold").attr("fill", "#000").text(txt);
    fitText(t, bulletFit[i]);
    var f = svg.append("g").attr("transform", "translate(957," + (bulletRows[i] - 15) + ")");
    f.append("circle").attr("r", 20).attr("fill", "url(#faceFill)");
    f.append("path").attr("d", "M-13,-12L-5,-7L-13,-2M13,-12L5,-7L13,-2").attr("fill", "none").attr("stroke", "#4a2a2a").attr("stroke-width", 2.4);
    f.append("path").attr("d", "M-15,0H15C15,12 8,18 0,18C-8,18 -15,12 -15,0Z").attr("fill", "#a0109a");
    f.append("path").attr("d", "M-15,0H15L14,5H-14Z").attr("fill", "#fff");
});
svg.append("text").attr("class", "sans").attr("x", 1760).attr("y", 1036).attr("text-anchor", "middle")
    .attr("font-size", 23).attr("fill", "#aaa").text("36");
</script>
</body>
</html>
